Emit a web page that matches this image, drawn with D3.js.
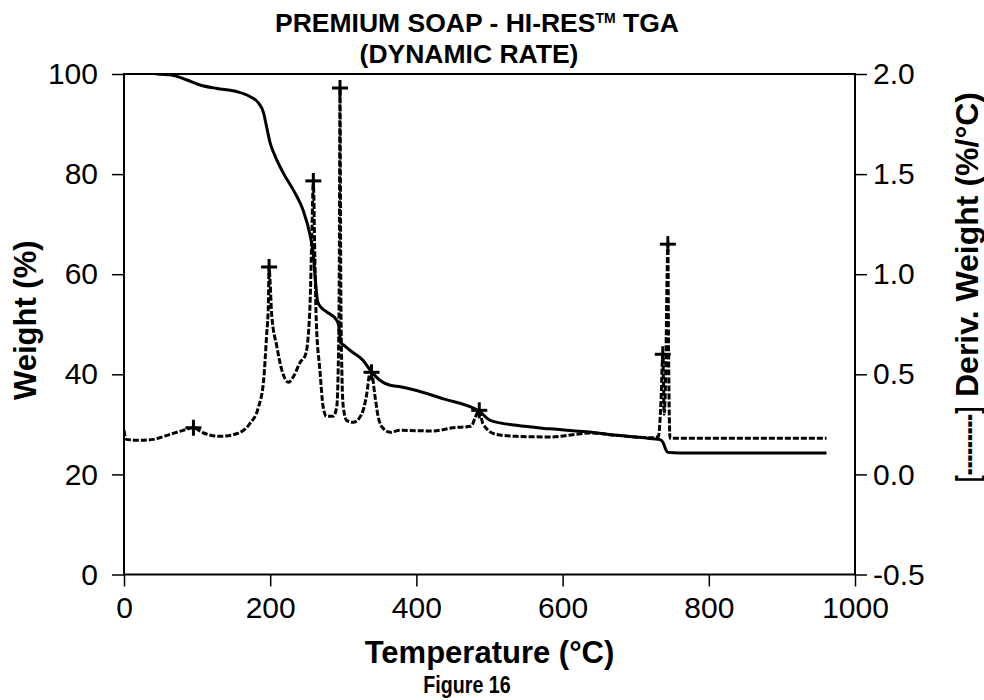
<!DOCTYPE html>
<html lang="en">
<head>
<meta charset="UTF-8">
<title>Premium Soap - Hi-Res TGA</title>
<script src="https://d3js.org/d3.v7.min.js"></script>
<style>
    body { margin: 0; background: #fff; }
    svg { display: block; font-family: "Liberation Sans", Arial, sans-serif; }
    .axis path, .axis line { stroke: #000; }
    .axis text { font-size: 30px; fill: #000; }
    .lbl { font-weight: bold; fill: #000; }
</style>
</head>
<body>
<svg id="chart" width="984" height="700"></svg>
<script>
    // weight curve (solid), temperature in °C / weight in %
    const weightT = [30, 46, 65, 86, 104, 127, 154, 172, 184, 191, 195, 200, 207, 218, 234, 245, 255, 259, 262, 265, 270, 277, 291, 294, 296.5, 300, 309, 327, 337, 350, 364, 378, 437, 487, 501, 537, 583, 633, 674, 724, 734, 738, 741, 744, 760, 961];
    const weightW = [100.6, 100.0, 99.8, 98.8, 97.8, 97.1, 96.5, 95.5, 94.2, 92.2, 89.5, 86.2, 83.5, 80.2, 76.2, 72.8, 67.5, 64.0, 58.5, 54.5, 53.3, 52.5, 50.8, 49.5, 46.3, 45.9, 44.8, 42.8, 40.8, 38.8, 37.8, 37.5, 35.1, 32.5, 30.8, 29.8, 29.1, 28.5, 27.8, 27.1, 26.9, 26.2, 25.0, 24.4, 24.3, 24.3];

    // derivative curve (dashed), %/°C
    const derivT = [0, 3, 20, 40, 63, 81, 95, 108, 131, 154, 172, 184, 191, 195, 197.5, 198.5, 200, 202, 209, 216, 225, 232, 241, 248, 252, 254.5, 257, 259, 261, 263, 268, 272.5, 277, 286, 291, 293, 294.5, 295.5, 296.5, 298, 300, 304.5, 313.5, 325, 332, 336, 338.6, 343, 347.6, 354.5, 364, 377, 423, 450, 475, 480, 486, 491, 509, 537, 582, 619, 637, 674, 724, 731, 735, 737, 739, 741, 743, 744, 745, 747, 750, 800, 961];
    const derivD = [0.22, 0.175, 0.17, 0.175, 0.2, 0.22, 0.233, 0.208, 0.19, 0.203, 0.253, 0.336, 0.47, 0.69, 0.85, 1.036, 0.95, 0.80, 0.64, 0.52, 0.46, 0.49, 0.56, 0.595, 0.69, 0.85, 1.2, 1.466, 1.1, 0.77, 0.52, 0.336, 0.29, 0.29, 0.336, 0.52, 1.0, 1.93, 1.0, 0.52, 0.336, 0.27, 0.26, 0.30, 0.40, 0.50, 0.51, 0.40, 0.29, 0.23, 0.21, 0.22, 0.217, 0.233, 0.24, 0.28, 0.32, 0.253, 0.20, 0.19, 0.187, 0.20, 0.207, 0.195, 0.183, 0.19, 0.4, 0.6, 0.3, 0.5, 1.0, 1.15, 0.6, 0.18, 0.18, 0.18, 0.18];

    // peak markers (+) on the derivative curve
    const peakT = [95, 198.5, 259, 295.5, 338.6, 486, 737, 744];
    const peakD = [0.233, 1.036, 1.466, 1.93, 0.51, 0.32, 0.6, 1.15];

    const xTicks = [0, 200, 400, 600, 800, 1000];
    const yLeftTicks = [0, 20, 40, 60, 80, 100];
    const yRightTicks = [-0.5, 0.0, 0.5, 1.0, 1.5, 2.0];

    const plotL = 124, plotR = 855, plotT = 74, plotB = 574.5;

    const svg = d3.select('#chart');
    const x = d3.scaleLinear().domain([0, 1000]).range([plotL, plotR]);
    const yL = d3.scaleLinear().domain([0, 100]).range([plotB, plotT]);
    const yR = d3.scaleLinear().domain([-0.5, 2.0]).range([plotB, plotT]);

    svg.append('clipPath').attr('id', 'plotClip')
        .append('rect')
        .attr('x', plotL).attr('y', plotT)
        .attr('width', plotR - plotL).attr('height', plotB - plotT);

    // axes
    const xAxis = svg.append('g').attr('class', 'axis')
        .attr('transform', `translate(0,${plotB})`)
        .call(d3.axisBottom(x).tickValues(xTicks).tickFormat(d => String(d))
            .tickSize(12).tickSizeOuter(0).tickPadding(10));
    const lAxis = svg.append('g').attr('class', 'axis')
        .attr('transform', `translate(${plotL},0)`)
        .call(d3.axisLeft(yL).tickValues(yLeftTicks).tickFormat(d => String(d))
            .tickSize(12).tickSizeOuter(0).tickPadding(14));
    const rAxis = svg.append('g').attr('class', 'axis')
        .attr('transform', `translate(${plotR},0)`)
        .call(d3.axisRight(yR).tickValues(yRightTicks).tickFormat(d => d.toFixed(1))
            .tickSize(12).tickSizeOuter(0).tickPadding(6));

    [xAxis, lAxis, rAxis].forEach(a => {
        a.select('.domain').remove();
        a.selectAll('line').attr('stroke-width', 1.5);
        a.attr('font-family', null).attr('font-size', null);
    });

    // frame
    svg.append('rect')
        .attr('x', plotL).attr('y', plotT)
        .attr('width', plotR - plotL).attr('height', plotB - plotT)
        .attr('fill', 'none').attr('stroke', '#000').attr('stroke-width', 2);

    const plot = svg.append('g').attr('clip-path', 'url(#plotClip)');

    const weightLine = d3.line()
        .x((d, i) => x(weightT[i]))
        .y(d => yL(d))
        .curve(d3.curveMonotoneX);
    plot.append('path')
        .attr('d', weightLine(weightW))
        .attr('fill', 'none').attr('stroke', '#000').attr('stroke-width', 3);

    const derivLine = d3.line()
        .x((d, i) => x(derivT[i]))
        .y(d => yR(d))
        .curve(d3.curveMonotoneX);
    plot.append('path')
        .attr('d', derivLine(derivD))
        .attr('fill', 'none').attr('stroke', '#000').attr('stroke-width', 3)
        .attr('stroke-dasharray', '6,2');

    const marks = svg.append('g');
    peakT.forEach((t, i) => {
        const cx = x(t), cy = yR(peakD[i]);
        marks.append('line').attr('x1', cx - 8).attr('x2', cx + 8).attr('y1', cy).attr('y2', cy)
            .attr('stroke', '#000').attr('stroke-width', 3);
        marks.append('line').attr('x1', cx).attr('x2', cx).attr('y1', cy - 8).attr('y2', cy + 8)
            .attr('stroke', '#000').attr('stroke-width', 3);
    });

    // titles
    const t1 = svg.append('text').attr('class', 'lbl')
        .attr('x', 477).attr('y', 32).attr('text-anchor', 'middle')
        .style('font-size', '26.5px');
    t1.append('tspan').text('PREMIUM SOAP - HI-RES');
    t1.append('tspan').text('TM').style('font-size', '14px').attr('dy', -9);
    t1.append('tspan').text(' TGA').attr('dy', 9);

    svg.append('text').attr('class', 'lbl')
        .attr('x', 469).attr('y', 63).attr('text-anchor', 'middle')
        .style('font-size', '26.5px')
        .text('(DYNAMIC RATE)');

    svg.append('text').attr('class', 'lbl')
        .attr('x', 489.5).attr('y', 663).attr('text-anchor', 'middle')
        .style('font-size', '31px')
        .text('Temperature (°C)');

    svg.append('text').attr('class', 'lbl')
        .attr('transform', 'translate(467,693) scale(0.82,1)')
        .attr('text-anchor', 'middle')
        .style('font-size', '24px')
        .text('Figure 16');

    svg.append('text').attr('class', 'lbl')
        .attr('transform', 'translate(36,400) rotate(-90)')
        .style('font-size', '31px')
        .text('Weight (%)');

    svg.append('text').attr('class', 'lbl')
        .attr('transform', 'translate(978,482) rotate(-90)')
        .style('font-size', '32px')
        .attr('textLength', 75).attr('lengthAdjust', 'spacingAndGlyphs')
        .text('[---------]');

    svg.append('text').attr('class', 'lbl')
        .attr('transform', 'translate(978,397) rotate(-90)')
        .style('font-size', '32px')
        .text('Deriv. Weight (%/°C)');
</script>
</body>
</html>
